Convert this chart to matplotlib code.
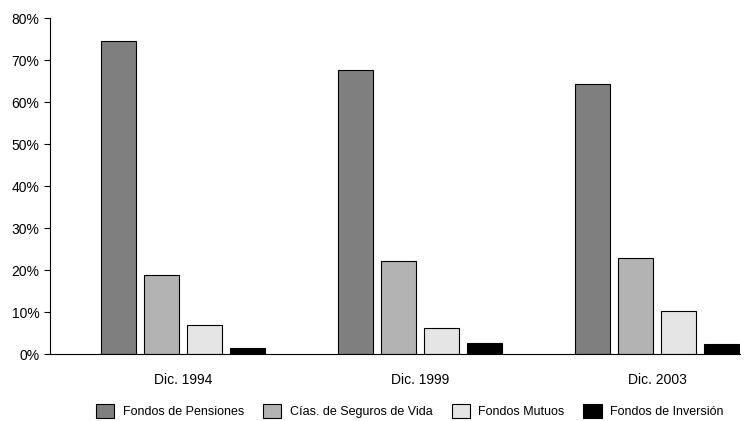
import matplotlib.pyplot as plt
import numpy as np
from matplotlib.ticker import PercentFormatter

plt.rcParams['font.family'] = ['Liberation Sans Narrow', 'Liberation Sans', 'DejaVu Sans']

periods = ['Dic. 1994', 'Dic. 1999', 'Dic. 2003']
series = ['Fondos de Pensiones', 'Cías. de Seguros de Vida',
          'Fondos Mutuos', 'Fondos de Inversión']
pensiones = [74.6, 67.6, 64.2]
seguros = [18.9, 22.2, 22.9]
mutuos = [6.8, 6.3, 10.3]
inversion = [1.5, 2.7, 2.3]
colors = ['#7f7f7f', '#b3b3b3', '#e5e5e5', '#000000']

fig = plt.figure(figsize=(7.46, 4.21), dpi=100)
ax = fig.add_axes([50 / 746, (421 - 354) / 421, 690 / 746, 336 / 421])

x = np.arange(len(periods))
width = 0.148
step = 0.181
for k, (vals, name) in enumerate(zip([pensiones, seguros, mutuos, inversion], series)):
    ax.bar(x + (k - 1.5) * step, vals, width, color=colors[k],
           edgecolor='black', linewidth=0.8, label=name)

ax.set_ylim(0, 80)
ax.set_xlim(-0.56, 2.35)
ax.set_yticks(range(0, 81, 10))
ax.yaxis.set_major_formatter(PercentFormatter(decimals=0))
ax.set_xticks(x)
ax.set_xticklabels(periods)
ax.tick_params(axis='x', length=0, pad=14, labelsize=10)
ax.tick_params(axis='y', length=4, labelsize=10)
for s in ['top', 'right']:
    ax.spines[s].set_visible(False)

fig.legend(loc='center', bbox_to_anchor=(410 / 746, 1 - 411 / 421), ncol=4,
           frameon=False, fontsize=9, handlelength=1.45, handleheight=1.35,
           columnspacing=1.5, handletextpad=0.7, borderpad=0)

fig.savefig('out.png', dpi=100)
